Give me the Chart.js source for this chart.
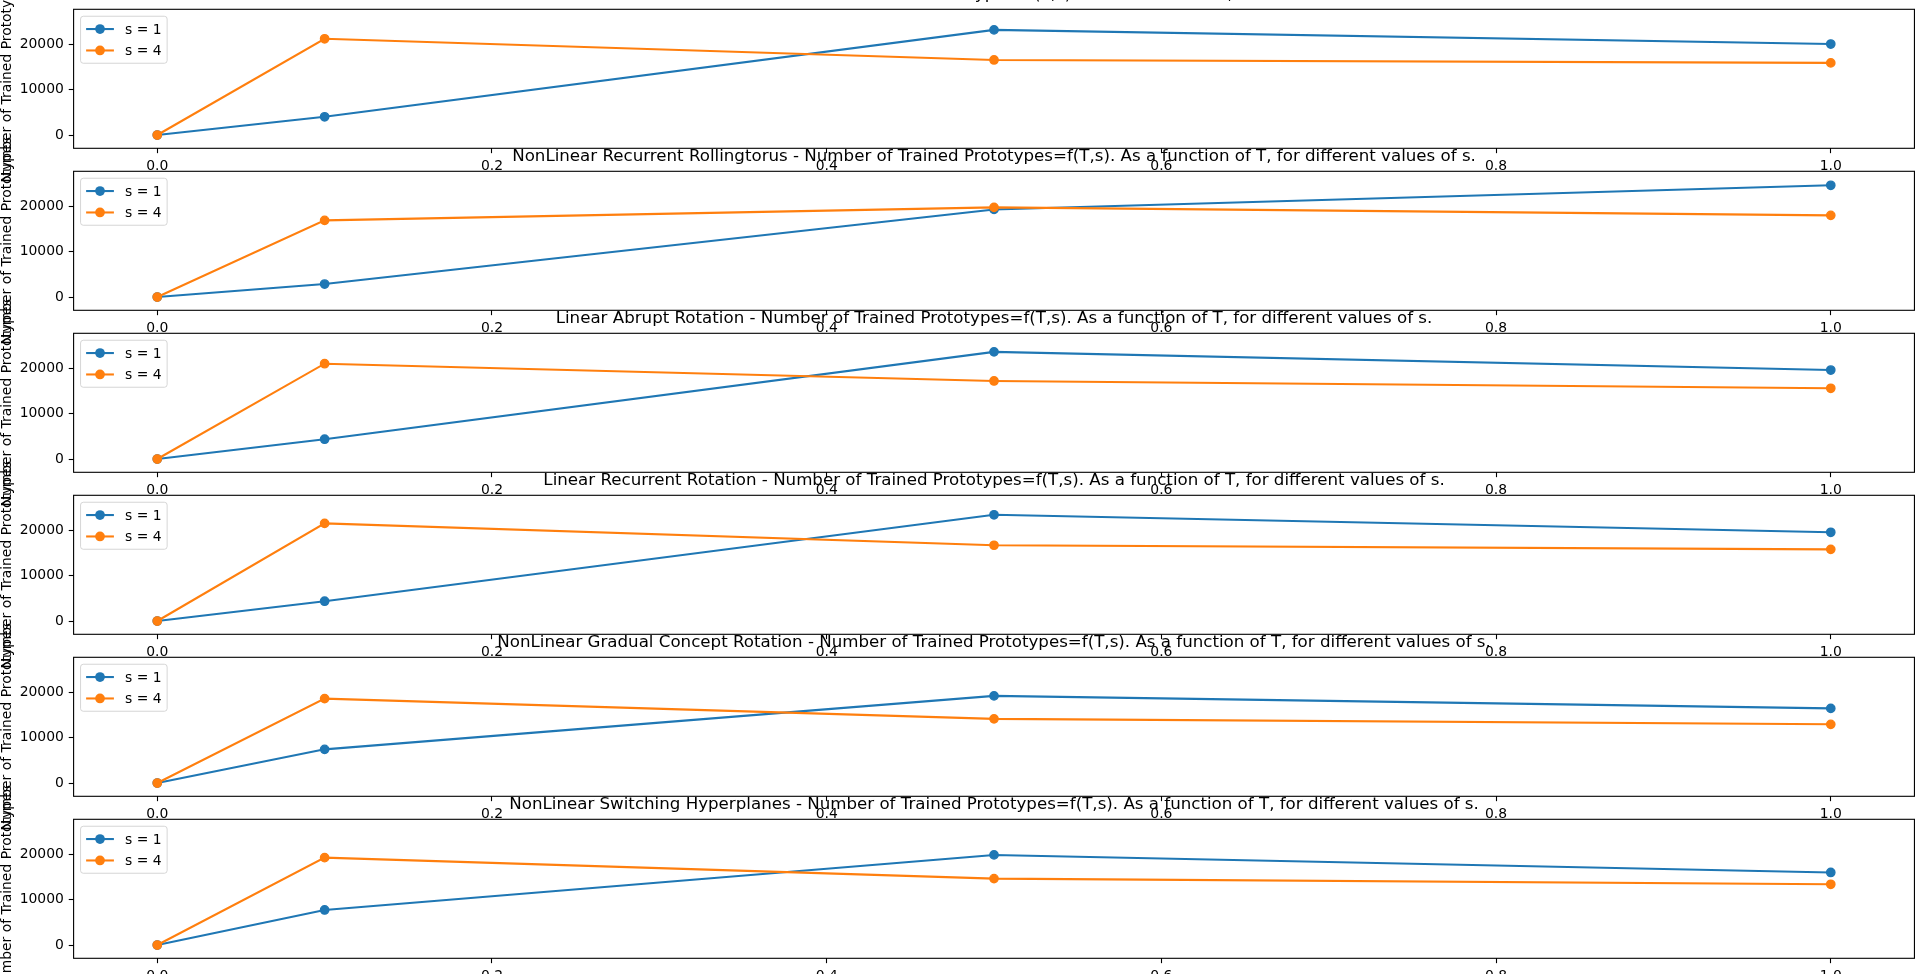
<!DOCTYPE html>
<html><head><meta charset="utf-8">
<script src="https://cdn.jsdelivr.net/npm/chart.js@4"></script>
<style>
html,body{margin:0;padding:0;background:#fff;overflow:hidden;}
#wrap{position:relative;width:1920px;height:974px;background:#fff;}
#wrap canvas{position:absolute;left:0;top:0;}
</style></head><body><div id="wrap"></div>
<script>
// ---- data ----
const T = [0.0, 0.1, 0.5, 1.0];
const xTicks = [0.0, 0.2, 0.4, 0.6, 0.8, 1.0];
const yTicks = [0, 10000, 20000];
const seriesLabels = ['s = 1', 's = 4'];
const yLabel = 'Number of Trained Prototypes';
const titles = [
  'Linear Gradual Rotation - Number of Trained Prototypes=f(T,s). As a function of T, for different values of s.',
  'NonLinear Recurrent Rollingtorus - Number of Trained Prototypes=f(T,s). As a function of T, for different values of s.',
  'Linear Abrupt Rotation - Number of Trained Prototypes=f(T,s). As a function of T, for different values of s.',
  'Linear Recurrent Rotation - Number of Trained Prototypes=f(T,s). As a function of T, for different values of s.',
  'NonLinear Gradual Concept Rotation - Number of Trained Prototypes=f(T,s). As a function of T, for different values of s.',
  'NonLinear Switching Hyperplanes - Number of Trained Prototypes=f(T,s). As a function of T, for different values of s.'
];
const linGradS1   = [0, 4000, 23100, 20000];
const linGradS4   = [0, 21150, 16500, 15850];
const nlRollS1    = [0, 2850, 19250, 24550];
const nlRollS4    = [0, 16850, 19700, 17950];
const linAbruptS1 = [0, 4350, 23550, 19550];
const linAbruptS4 = [0, 20950, 17150, 15550];
const linRecS1    = [0, 4350, 23350, 19500];
const linRecS4    = [0, 21450, 16650, 15750];
const nlGradS1    = [0, 7400, 19150, 16400];
const nlGradS4    = [0, 18550, 14100, 12900];
const nlSwitchS1  = [0, 7700, 19800, 15950];
const nlSwitchS4  = [0, 19200, 14600, 13350];
const panelSeries = [
  [linGradS1, linGradS4], [nlRollS1, nlRollS4], [linAbruptS1, linAbruptS4],
  [linRecS1, linRecS4], [nlGradS1, nlGradS4], [nlSwitchS1, nlSwitchS4]
];

// ---- layout / style ----
const FIG_W = 1920, FIG_H = 974;
const AX_LEFT = 73.6, AX_RIGHT = 1916.3, AX_TOP0 = 9.3, AX_H = 139, AX_STEP = 162;
const Y_W = 60, X_H_MAX = 30;
const X_MIN = -0.05, X_MAX = 1.05, Y_MIN = -2920, Y_MAX = 27630;
const COLORS = ['#1f77b4', '#ff7f0e'];
const FONT = '"DejaVu Sans"';
const FS = 13.9, TITLE_FS = 16.67, TITLE_PAD = 9.9;
Chart.defaults.font.family = FONT;
Chart.defaults.font.size = FS;
Chart.defaults.color = '#000';

const decorPlugin = {
  id: 'decor',
  afterDatasetsDraw(chart) {
    const ctx = chart.ctx, a = chart.chartArea;
    ctx.save();
    ctx.strokeStyle = '#000'; ctx.lineWidth = 1.1;
    ctx.strokeRect(a.left, a.top, a.right - a.left, a.bottom - a.top);
    ctx.font = FS + 'px ' + FONT;
    const labels = chart.data.datasets.map(d => d.label);
    const tw = Math.max(...labels.map(l => ctx.measureText(l).width));
    const pad = 0.4 * FS, hl = 2 * FS, htp = 0.8 * FS, ls = 0.5 * FS, rowH = 14.47;
    const bx = a.left + 0.5 * FS, by = a.top + 0.5 * FS;
    const bw = pad + hl + htp + tw + pad;
    const bh = 2 * pad + labels.length * rowH + (labels.length - 1) * ls;
    ctx.beginPath();
    ctx.roundRect(bx, by, bw, bh, 0.2 * FS);
    ctx.fillStyle = 'rgba(255,255,255,0.8)'; ctx.fill();
    ctx.strokeStyle = 'rgba(204,204,204,0.8)'; ctx.lineWidth = 1.0; ctx.stroke();
    chart.data.datasets.forEach((d, i) => {
      const cy = by + pad + rowH / 2 + i * (rowH + ls);
      const x0 = bx + pad;
      ctx.strokeStyle = d.borderColor; ctx.lineWidth = d.borderWidth;
      ctx.beginPath(); ctx.moveTo(x0, cy); ctx.lineTo(x0 + hl, cy); ctx.stroke();
      ctx.fillStyle = d.borderColor;
      ctx.beginPath(); ctx.arc(x0 + hl / 2, cy, d.pointRadius + d.pointBorderWidth / 2, 0, Math.PI * 2); ctx.fill();
      ctx.fillStyle = '#000'; ctx.textAlign = 'left'; ctx.textBaseline = 'middle';
      ctx.fillText(d.label, x0 + hl + htp, cy + 1);
    });
    ctx.restore();
  },
  afterDraw(chart) {
    const ctx = chart.ctx, a = chart.chartArea;
    const o = chart.options.plugins.decor;
    ctx.save();
    ctx.fillStyle = '#000';
    ctx.font = TITLE_FS + 'px ' + FONT;
    ctx.textAlign = 'center'; ctx.textBaseline = 'alphabetic';
    ctx.fillText(o.title, (a.left + a.right) / 2, a.top - TITLE_PAD);
    ctx.font = FS + 'px ' + FONT;
    ctx.translate(11, (a.top + a.bottom) / 2);
    ctx.rotate(-Math.PI / 2);
    ctx.fillText(o.ylabel, 0, 0);
    ctx.restore();
  }
};

const wrap = document.getElementById('wrap');
panelSeries.forEach((series, p) => {
  const top = AX_TOP0 + p * AX_STEP, bottom = top + AX_H;
  const xH = Math.min(X_H_MAX, FIG_H - bottom);
  const cv = document.createElement('canvas');
  cv.width = FIG_W; cv.height = FIG_H;
  cv.style.width = FIG_W + 'px'; cv.style.height = FIG_H + 'px';
  wrap.appendChild(cv);
  const tickGrid = { drawOnChartArea: false, drawTicks: true, tickLength: 4.86, tickWidth: 1.1, tickColor: '#000' };
  new Chart(cv, {
    type: 'line',
    data: {
      datasets: series.map((vals, i) => ({
        label: seriesLabels[i],
        data: T.map((t, k) => ({ x: t, y: vals[k] })),
        borderColor: COLORS[i], backgroundColor: COLORS[i],
        pointBackgroundColor: COLORS[i], pointBorderColor: COLORS[i], pointBorderWidth: 1.39,
        borderWidth: 2.08, pointRadius: 4.17, pointHoverRadius: 4.17,
        tension: 0, fill: false, order: 1 - i
      }))
    },
    options: {
      responsive: false, animation: false, devicePixelRatio: 1,
      events: [],
      layout: { padding: { left: AX_LEFT - Y_W, top: top, right: FIG_W - AX_RIGHT, bottom: FIG_H - bottom - xH } },
      plugins: { legend: { display: false }, tooltip: { enabled: false }, title: { display: false },
                 decor: { title: titles[p], ylabel: yLabel } },
      scales: {
        x: {
          type: 'linear', min: X_MIN, max: X_MAX,
          afterBuildTicks: s => { s.ticks = xTicks.map(v => ({ value: v })); },
          afterFit: s => { s.height = xH; s.paddingLeft = 0; s.paddingRight = 0; s.paddingTop = 0; s.paddingBottom = 0; },
          grid: tickGrid, border: { display: false },
          ticks: { color: '#000', padding: 4.86, maxRotation: 0, autoSkip: false,
                   callback: v => Number(v).toFixed(1), font: { size: FS } }
        },
        y: {
          type: 'linear', min: Y_MIN, max: Y_MAX,
          afterBuildTicks: s => { s.ticks = yTicks.map(v => ({ value: v })); },
          afterFit: s => { s.width = Y_W; s.paddingTop = 0; s.paddingBottom = 0; s.paddingLeft = 0; s.paddingRight = 0; },
          grid: tickGrid, border: { display: false },
          ticks: { color: '#000', padding: 4.86, autoSkip: false,
                   callback: v => String(v), font: { size: FS } }
        }
      }
    },
    plugins: [decorPlugin]
  });
});
</script></body></html>
